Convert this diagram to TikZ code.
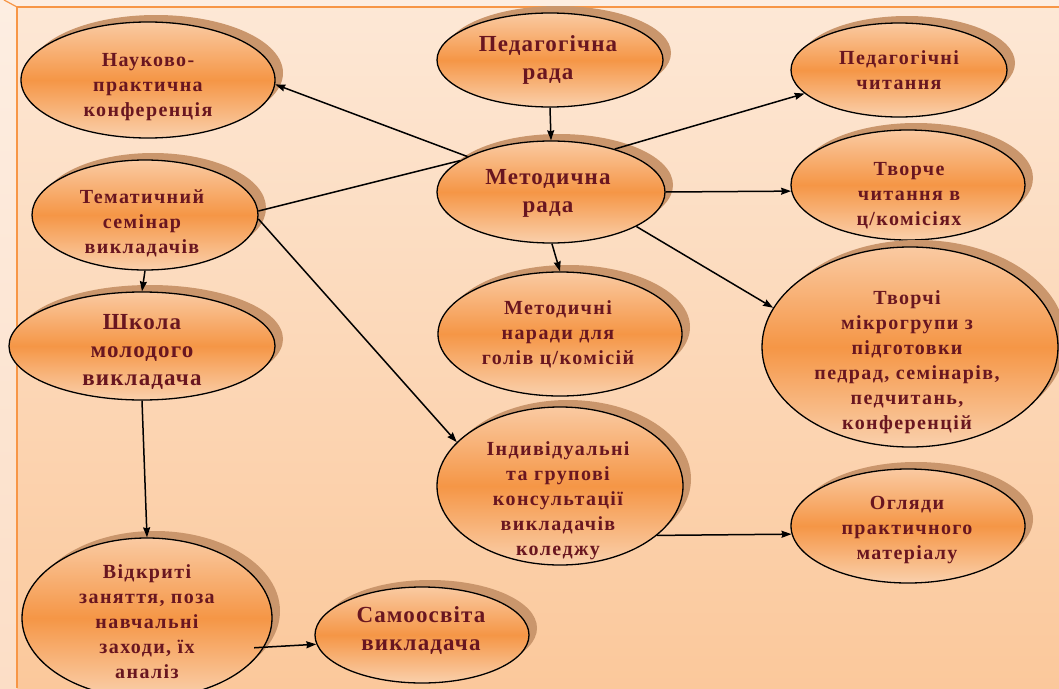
\documentclass[tikz,border=0pt]{standalone}
\usepackage{fontspec}
\setmainfont{Liberation Serif}
\newfontfamily\smallfnt[LetterSpace=7]{Liberation Serif}
\newfontfamily\bigfnt[LetterSpace=5]{Liberation Serif}
\usetikzlibrary{shapes.geometric,arrows.meta,shadows}
\definecolor{bgtop}{RGB}{253,232,214}
\definecolor{bgbot}{RGB}{251,200,155}
\definecolor{striptop}{RGB}{253,238,226}
\definecolor{stripbot}{RGB}{252,222,198}
\definecolor{frameor}{RGB}{247,150,70}
\definecolor{elltop}{RGB}{250,202,162}
\definecolor{ellmid}{RGB}{245,150,70}
\definecolor{ellbot}{RGB}{250,208,172}
\definecolor{shadowc}{RGB}{202,150,108}
\definecolor{textc}{RGB}{105,22,32}
\tikzset{
  ell/.style={ellipse, draw=black, line width=1.3pt, inner sep=0pt,
    top color=elltop, bottom color=ellbot, middle color=ellmid,
    general shadow={fill=shadowc, shadow xshift=8pt, shadow yshift=7pt}},
  txts/.style={align=center, text=textc, inner sep=0pt,
    font=\smallfnt\bfseries\fontsize{20}{25}\selectfont},
  txtb/.style={align=center, text=textc, inner sep=0pt,
    font=\bigfnt\bfseries\fontsize{23}{28}\selectfont},
  conn/.style={line width=1.5pt, -{Stealth[length=10pt,width=7pt,inset=1pt]}},
  plain/.style={line width=1.5pt}
}
\begin{document}
\begin{tikzpicture}[x=1pt,y=-1pt]
\useasboundingbox (0,0) rectangle (1059,688);
\clip (0,0) rectangle (1059,688);
% background
\fill[top color=bgtop, bottom color=bgbot] (0,0) rectangle (1059,688);
\fill[top color=striptop, bottom color=stripbot] (0,0) rectangle (17,688);
\fill[striptop] (0,0) rectangle (1059,7);
\draw[frameor, line width=1.6pt] (17,688) -- (17,7) -- (1059,7);
\draw[frameor, line width=1.2pt] (4,0) -- (17,7);

% ellipses
\node[ell, minimum width=254pt, minimum height=116pt] (nauk) at (148,80) {};
\node[ell, minimum width=226pt, minimum height=94pt] (pr) at (550,60) {};
\node[ell, minimum width=216pt, minimum height=94pt] (pch) at (899,70) {};
\node[ell, minimum width=226pt, minimum height=110pt] (tem) at (145,215) {};
\node[ell, minimum width=228pt, minimum height=102pt] (mr) at (551,192) {};
\node[ell, minimum width=234pt, minimum height=110pt] (tvch) at (908,185) {};
\node[ell, minimum width=266pt, minimum height=108pt] (shk) at (142,346) {};
\node[ell, minimum width=244pt, minimum height=124pt] (mn) at (560,334) {};
\node[ell, minimum width=296pt, minimum height=200pt] (tm) at (910,347) {};
\node[ell, minimum width=246pt, minimum height=158pt] (ind) at (560,486) {};
\node[ell, minimum width=234pt, minimum height=114pt] (ogl) at (908,526) {};
\node[ell, minimum width=250pt, minimum height=160pt] (vid) at (147,618) {};
\node[ell, minimum width=214pt, minimum height=96pt] (sam) at (422,635) {};

% texts
\node[txts] (naukT) at (148,87) {Науково-\\практична\\конференція};
\node[txtb] (prT) at (548,60) {Педагогічна\\рада};
\node[txts] (pchT) at (899,70) {Педагогічні\\читання};
\node[txts] (temT) at (142,223) {Тематичний\\семінар\\викладачів};
\node[txtb] (mrT) at (548,193) {Методична\\рада};
\node[txts] (tvchT) at (909,196) {Творче\\читання в\\ц/комісіях};
\node[txtb] (shkT) at (142,352) {Школа\\молодого\\викладача};
\node[txts] (mnT) at (558,334) {Методичні\\наради для\\голів ц/комісій};
\node[txts] (tmT) at (907,362) {Творчі\\мікрогрупи з\\підготовки\\педрад, семінарів,\\педчитань,\\конференцій};
\node[txts] (indT) at (558,501) {Індивідуальні\\та групові\\консультації\\викладачів\\коледжу};
\node[txts] (oglT) at (907,530) {Огляди\\практичного\\матеріалу};
\node[txts] (vidT) at (147,622) {Відкриті\\заняття, поза\\навчальні\\заходи, їх\\аналіз};
\node[txtb] (samT) at (421,631) {Самоосвіта\\викладача};

% connectors
\draw[conn] (pr.south) -- (mr.north);
\draw[conn] (mr.157) -- (nauk.-2);
\draw[plain] (tem.2) -- (mr.161);
\draw[conn] (mr.34) -- (pch.194);
\draw[conn] (mr.0) -- (tvch.183);
\draw[conn] (mr.-89) -- (mn.north);
\draw[conn] (mr.-22) -- (tm.164);
\draw[conn] (tem.-2) -- (ind.157);
\draw[conn] (tem.south) -- (shk.north);
\draw[conn] (shk.south) -- (vid.north);
\draw[conn, shorten <=-10pt] (vid.-14) -- (sam.185);
\draw[conn] (ind.-27) -- (ogl.184);
\end{tikzpicture}
\end{document}
